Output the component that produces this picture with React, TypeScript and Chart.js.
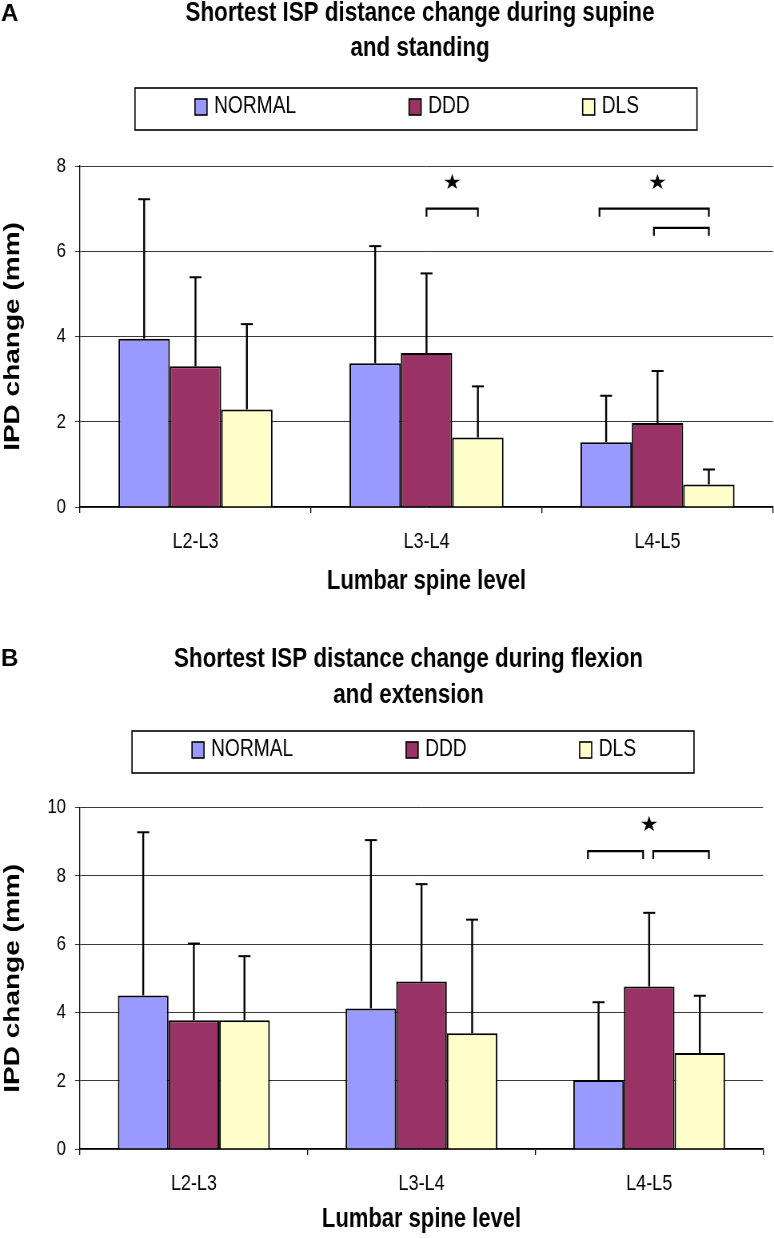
import React, { useEffect, useRef } from 'react';
import { Chart, registerables } from 'chart.js';

Chart.register(...registerables);

const levels = ['L2-L3', 'L3-L4', 'L4-L5'];
const groups = ['NORMAL', 'DDD', 'DLS'];
const groupColors = ['#9999FF', '#993366', '#FFFFCC'];

// A: supine vs standing, bar = mean, upper = top of the SD whisker (mm)
const supineNormal = [3.95, 3.37, 1.52];
const supineDdd = [3.3, 3.61, 1.97];
const supineDls = [2.29, 1.63, 0.53];
const supineNormalUpper = [7.22, 6.12, 2.61];
const supineDddUpper = [5.39, 5.48, 3.19];
const supineDlsUpper = [4.29, 2.83, 0.88];
const supineTicks = [0, 2, 4, 6, 8];

// B: flexion vs extension
const flexNormal = [4.5, 4.12, 2.02];
const flexDdd = [3.77, 4.91, 4.76];
const flexDls = [3.77, 3.39, 2.81];
const flexNormalUpper = [9.28, 9.05, 4.3];
const flexDddUpper = [6.02, 7.76, 6.92];
const flexDlsUpper = [5.65, 6.72, 4.49];
const flexTicks = [0, 2, 4, 6, 8, 10];

// significance brackets: level index, from/to group index, height in mm
const supineBrackets = [
  { level: 1, from: 1, to: 2, y: 7.0, fromOff: 0, toOff: 0 },
  { level: 2, from: 0, to: 2, y: 7.0, fromOff: -0.13, toOff: 0 },
  { level: 2, from: 1, to: 2, y: 6.55, fromOff: -0.07, toOff: 0 },
];
const supineStars = [
  { level: 1, from: 1, to: 2, y: 7.6 },
  { level: 2, from: 0, to: 2, y: 7.6 },
];
const flexBrackets = [
  { level: 2, from: 0, to: 1, y: 8.73, fromOff: -0.21, toOff: -0.12 },
  { level: 2, from: 1, to: 2, y: 8.73, fromOff: 0.08, toOff: 0.18 },
];
const flexStars = [{ level: 2, from: 0, to: 2, y: 9.47 }];

const SANS = "'Liberation Sans', Arial, sans-serif";

// the original figure is squeezed sideways; draw wide and show it at 774px
const VIEW_W = 774;
const CANVAS_W = 968;
const SX = VIEW_W / CANVAS_W;
const cx = (v: number) => v / SX;

interface Bracket { level: number; from: number; to: number; y: number; fromOff: number; toOff: number }
interface Star { level: number; from: number; to: number; y: number }

interface PanelCfg {
  letter: string;
  title: string[];
  titleX: number;
  titleBase: number[];
  letterBase: number;
  legendBox: { left: number; right: number; top: number; bottom: number };
  top: number;
  height: number;
  chartTop: number;
  rightPad: number;
  xAxisH: number;
  xTitlePad: number;
  values: number[][];
  uppers: number[][];
  ticks: number[];
  brackets: Bracket[];
  stars: Star[];
}

const panels: PanelCfg[] = [
  {
    letter: 'A',
    title: ['Shortest ISP distance change during supine', 'and standing'],
    titleX: 420,
    titleBase: [20.5, 56],
    letterBase: 21,
    legendBox: { left: 135, right: 697, top: 88, bottom: 130 },
    top: 0,
    height: 615,
    chartTop: 166,
    rightPad: 1,
    xAxisH: 108,
    xTitlePad: 17,
    values: [supineNormal, supineDdd, supineDls],
    uppers: [supineNormalUpper, supineDddUpper, supineDlsUpper],
    ticks: supineTicks,
    brackets: supineBrackets,
    stars: supineStars,
  },
  {
    letter: 'B',
    title: ['Shortest ISP distance change during flexion', 'and extension'],
    titleX: 408.5,
    titleBase: [52, 88],
    letterBase: 51,
    legendBox: { left: 132, right: 694, top: 116, bottom: 158 },
    top: 615,
    height: 623,
    chartTop: 192.7,
    rightPad: 11,
    xAxisH: 89,
    xTitlePad: 2,
    values: [flexNormal, flexDdd, flexDls],
    uppers: [flexNormalUpper, flexDddUpper, flexDlsUpper],
    ticks: flexTicks,
    brackets: flexBrackets,
    stars: flexStars,
  },
];

// draw text at its natural width, undoing the sideways squeeze
function fillUnsqueezed(ctx: CanvasRenderingContext2D, text: string, x: number, y: number) {
  ctx.save();
  ctx.translate(x, y);
  ctx.scale(1 / SX, 1);
  ctx.fillText(text, 0, 0);
  ctx.restore();
}

function makeDecor(cfg: PanelCfg) {
  return {
    id: 'decor',
    afterDatasetsDraw(chart: any) {
      const ctx = chart.ctx;
      const y = chart.scales.y;
      const barX = (level: number, series: number, off: number) => {
        const bar = chart.getDatasetMeta(series).data[level];
        return bar.x + off * bar.width;
      };
      ctx.save();
      ctx.strokeStyle = '#000';
      // error whiskers (upper only)
      cfg.uppers.forEach((upper, i) => {
        chart.getDatasetMeta(i).data.forEach((bar: any, j: number) => {
          const top = y.getPixelForValue(upper[j]);
          ctx.lineWidth = 2.4;
          ctx.beginPath();
          ctx.moveTo(bar.x, bar.y);
          ctx.lineTo(bar.x, top);
          ctx.stroke();
          ctx.lineWidth = 2;
          ctx.beginPath();
          ctx.moveTo(bar.x - cx(6), top);
          ctx.lineTo(bar.x + cx(6), top);
          ctx.stroke();
        });
      });
      // brackets
      ctx.lineWidth = 2.2;
      cfg.brackets.forEach((b) => {
        const x1 = barX(b.level, b.from, b.fromOff);
        const x2 = barX(b.level, b.to, b.toOff);
        const py = y.getPixelForValue(b.y);
        ctx.beginPath();
        ctx.moveTo(x1, py + 8);
        ctx.lineTo(x1, py);
        ctx.lineTo(x2, py);
        ctx.lineTo(x2, py + 8);
        ctx.stroke();
      });
      ctx.fillStyle = '#000';
      ctx.font = "21px 'DejaVu Sans'";
      ctx.textAlign = 'center';
      ctx.textBaseline = 'middle';
      cfg.stars.forEach((s) => {
        const x = (barX(s.level, s.from, 0) + barX(s.level, s.to, 0)) / 2;
        fillUnsqueezed(ctx, '\u2605', x, y.getPixelForValue(s.y));
      });
      ctx.restore();
    },
    afterDraw(chart: any) {
      const ctx = chart.ctx;
      ctx.save();
      ctx.fillStyle = '#000';
      ctx.textBaseline = 'alphabetic';
      ctx.textAlign = 'left';
      ctx.font = `bold 24px ${SANS}`;
      fillUnsqueezed(ctx, cfg.letter, cx(1), cfg.letterBase);

      ctx.textAlign = 'center';
      ctx.font = `bold 28px ${SANS}`;
      cfg.title.forEach((line, i) => ctx.fillText(line, cx(cfg.titleX), cfg.titleBase[i], cx(471)));

      // legend box
      const lb = cfg.legendBox;
      ctx.strokeStyle = '#000';
      ctx.lineWidth = 1.6;
      ctx.strokeRect(cx(lb.left), lb.top, cx(lb.right - lb.left), lb.bottom - lb.top);
      ctx.font = `24px ${SANS}`;
      const gap = cx(113);
      const sw = cx(12);
      const tgap = cx(7);
      const items = chart.data.datasets.map((d: any) => ({
        label: d.label,
        color: d.backgroundColor,
        w: sw + tgap + ctx.measureText(d.label).width,
      }));
      const total = items.reduce((a: number, it: any) => a + it.w, 0) + gap * (items.length - 1);
      let x = cx((lb.left + lb.right) / 2 + 1) - total / 2;
      const cy = (lb.top + lb.bottom) / 2;
      ctx.textAlign = 'left';
      ctx.textBaseline = 'middle';
      items.forEach((it: any) => {
        ctx.fillStyle = it.color;
        ctx.fillRect(x, cy - 10, sw, 16);
        ctx.strokeRect(x, cy - 10, sw, 16);
        ctx.fillStyle = '#000';
        ctx.fillText(it.label, x + sw + tgap, cy - 3);
        x += it.w + gap;
      });
      ctx.restore();
    },
  };
}

function Panel({ cfg }: { cfg: PanelCfg }) {
  const canvasRef = useRef<HTMLCanvasElement | null>(null);
  const chartRef = useRef<Chart | null>(null);

  useEffect(() => {
    if (!canvasRef.current) return;
    if (chartRef.current) chartRef.current.destroy();
    const ticks = cfg.ticks;
    chartRef.current = new Chart(canvasRef.current, {
      type: 'bar',
      data: {
        labels: levels,
        datasets: groups.map((g, i) => ({
          label: g,
          data: cfg.values[i],
          backgroundColor: groupColors[i],
          borderColor: '#000',
          borderWidth: 2,
          categoryPercentage: 0.667,
          barPercentage: 1,
        })),
      },
      options: {
        animation: false,
        responsive: false,
        devicePixelRatio: 1,
        layout: { padding: { top: cfg.chartTop, right: cx(cfg.rightPad), left: 0, bottom: 0 } },
        plugins: { legend: { display: false }, title: { display: false }, tooltip: { enabled: false } },
        scales: {
          x: {
            grid: { drawOnChartArea: false, drawTicks: true, tickLength: 6, color: '#000', lineWidth: 1.3, offset: true },
            border: { color: '#000', width: 1.2 },
            ticks: { color: '#000', font: { family: SANS, size: 22.5 }, padding: 15, maxRotation: 0 },
            title: {
              display: true,
              text: 'Lumbar spine level',
              color: '#000',
              font: { family: SANS, size: 27.5, weight: 'bold' },
              padding: { top: 0, bottom: cfg.xTitlePad },
            },
            afterFit: (s: any) => {
              s.height = cfg.xAxisH;
            },
          },
          y: {
            min: ticks[0],
            max: ticks[ticks.length - 1],
            afterBuildTicks: (s: any) => {
              s.ticks = ticks.map((v) => ({ value: v }));
            },
            grid: { color: '#3a3a3a', tickLength: cx(5), lineWidth: 1 },
            border: { color: '#000', width: 1.3 },
            ticks: { color: '#000', font: { family: SANS, size: 21 }, padding: cx(9) },
            title: {
              display: true,
              text: 'IPD change (mm)',
              color: '#000',
              font: { family: SANS, size: 28, weight: 'bold', lineHeight: 1 },
              padding: { top: 2, bottom: 0 },
            },
            afterFit: (s: any) => {
              s.width = cx(80);
            },
          },
        },
      } as any,
      plugins: [makeDecor(cfg)],
    });
    return () => {
      if (chartRef.current) {
        chartRef.current.destroy();
        chartRef.current = null;
      }
    };
  }, [cfg]);

  return (
    <div style={{ position: 'absolute', left: 0, top: cfg.top, width: VIEW_W, height: cfg.height }}>
      <canvas
        ref={canvasRef}
        width={CANVAS_W}
        height={cfg.height}
        style={{ display: 'block', width: `${VIEW_W}px`, height: `${cfg.height}px` }}
      />
    </div>
  );
}

export default function App() {
  return (
    <div style={{ position: 'absolute', left: 0, top: 0, width: VIEW_W, height: 1238, background: '#fff' }}>
      {panels.map((p) => (
        <Panel key={p.letter} cfg={p} />
      ))}
    </div>
  );
}
